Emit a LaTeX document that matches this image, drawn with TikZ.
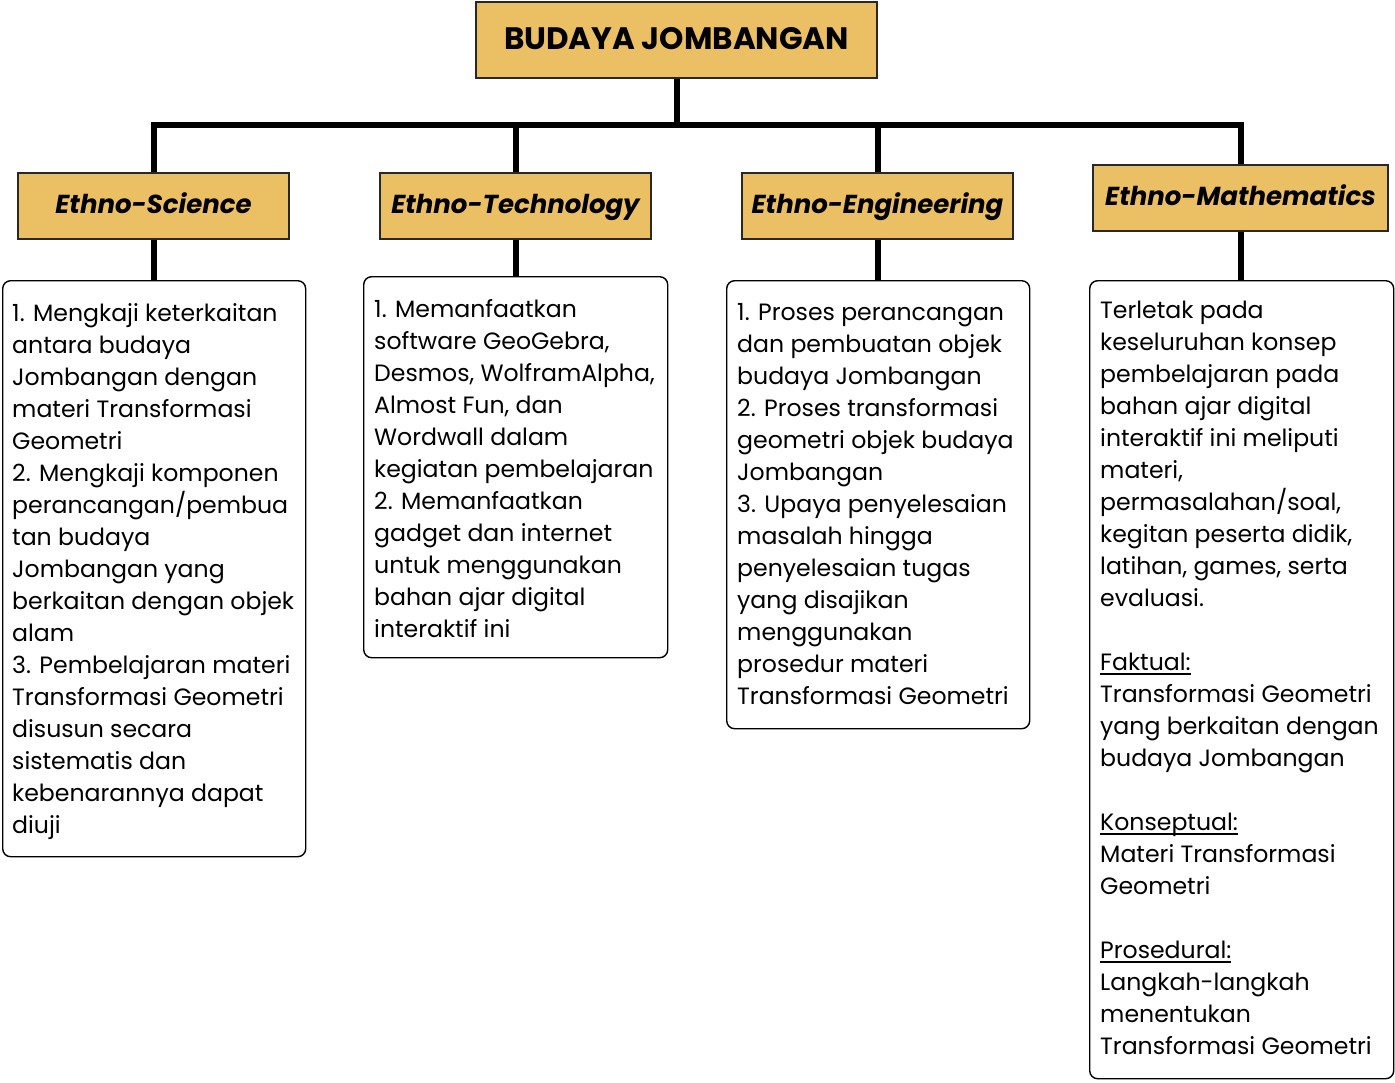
\documentclass[tikz,border=0pt]{standalone}
\usepackage{fontspec}
\setmainfont{Poppins}
\definecolor{gold}{RGB}{235,191,99}
\definecolor{edge}{RGB}{40,40,40}
% underline drawn as a rule just under the baseline
\newcommand\lineunder[1]{\setbox0\hbox{#1}\rlap{\rule[-4pt]{\wd0}{1.3pt}}\box0}
\begin{document}
\begin{tikzpicture}[x=1pt,y=-1pt,
  titlebox/.style={draw=edge,line width=1.3pt,fill=gold,inner sep=0pt,
    minimum width=401pt,minimum height=76pt,text height=22pt,text depth=4pt,
    font=\fontsize{31}{36}\selectfont\bfseries},
  catbox/.style={draw=edge,line width=1.3pt,fill=gold,inner sep=0pt,
    minimum width=271pt,minimum height=66pt,text height=19pt,text depth=5pt,
    font=\fontsize{26}{30}\selectfont\bfseries\itshape},
  detail/.style={draw=black,line width=1.4pt,rounded corners=8pt,
    anchor=north west,inner sep=0pt},
  body/.style={anchor=north west,inner sep=0pt,align=left,
    font=\fontsize{23.6}{32}\selectfont},
  conn/.style={line width=6pt,black}]
\useasboundingbox (0,0) rectangle (1395,1082);

% top and category boxes
\node[titlebox] (top) at (676.5,40) {BUDAYA JOMBANGAN};
\node[catbox] (sci) at (153.5,206) {Ethno-Science};
\node[catbox] (tech) at (515.5,206) {Ethno-Technology};
\node[catbox] (eng) at (877.5,206) {Ethno-Engineering};
\node[catbox,minimum width=295pt] (math) at (1240.5,198) {Ethno-Mathematics};

% detail boxes
\node[detail,minimum width=303pt,minimum height=576pt] (d1) at (2,280) {};
\node[detail,minimum width=304pt,minimum height=381pt] (d2) at (363,276) {};
\node[detail,minimum width=303pt,minimum height=448pt] (d3) at (726,280) {};
\node[detail,minimum width=304pt,minimum height=798pt] (d4) at (1089,280) {};

% connectors
\coordinate (bus) at (676,125);
\draw[conn] (top.south) -- (top.south |- bus);
\draw[conn] (sci.north) -- (sci.north |- bus) -- (math.north |- bus) -- (math.north);
\draw[conn] (tech.north) -- (tech.north |- bus);
\draw[conn] (eng.north) -- (eng.north |- bus);
\draw[conn] (sci.south) -- (sci.south |- d1.north);
\draw[conn] (tech.south) -- (tech.south |- d2.north);
\draw[conn] (eng.south) -- (eng.south |- d3.north);
\draw[conn] (math.south) -- (math.south |- d4.north);

% texts of the detail boxes
\node[body] (t1) at ([xshift=10pt,yshift=-23.5pt]d1.north west) {%
1. Mengkaji keterkaitan\\
antara budaya\\
Jombangan dengan\\
materi Transformasi\\
Geometri\\
2. Mengkaji komponen\\
perancangan/pembua\\
tan budaya\\
Jombangan yang\\
berkaitan dengan objek\\
alam\\
3. Pembelajaran materi\\
Transformasi Geometri\\
disusun secara\\
sistematis dan\\
kebenarannya dapat\\
diuji};
\node[body] (t2) at ([xshift=11pt,yshift=-23.5pt]d2.north west) {%
1. Memanfaatkan\\
software GeoGebra,\\
Desmos, WolframAlpha,\\
Almost Fun, dan\\
Wordwall dalam\\
kegiatan pembelajaran\\
2. Memanfaatkan\\
gadget dan internet\\
untuk menggunakan\\
bahan ajar digital\\
interaktif ini};
\node[body] (t3) at ([xshift=11pt,yshift=-23pt]d3.north west) {%
1. Proses perancangan\\
dan pembuatan objek\\
budaya Jombangan\\
2. Proses transformasi\\
geometri objek budaya\\
Jombangan\\
3. Upaya penyelesaian\\
masalah hingga\\
penyelesaian tugas\\
yang disajikan\\
menggunakan\\
prosedur materi\\
Transformasi Geometri};
\node[body] (t4) at ([xshift=11pt,yshift=-21pt]d4.north west) {%
Terletak pada\\
keseluruhan konsep\\
pembelajaran pada\\
bahan ajar digital\\
interaktif ini meliputi\\
materi,\\
permasalahan/soal,\\
kegitan peserta didik,\\
latihan, games, serta\\
evaluasi.\\[32pt]
\lineunder{Faktual:}\\
Transformasi Geometri\\
yang berkaitan dengan\\
budaya Jombangan\\[32pt]
\lineunder{Konseptual:}\\
Materi Transformasi\\
Geometri\\[32pt]
\lineunder{Prosedural:}\\
Langkah-langkah\\
menentukan\\
Transformasi Geometri};
\end{tikzpicture}
\end{document}
